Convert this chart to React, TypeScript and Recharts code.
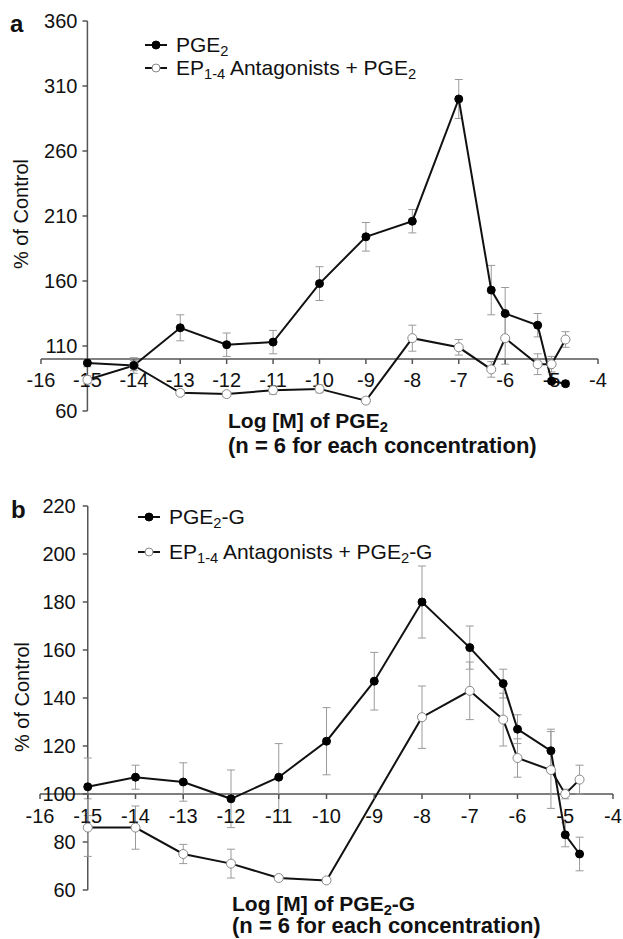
import React from 'react'
import { LineChart, Line, XAxis, YAxis, ReferenceLine, ReferenceDot, ErrorBar } from 'recharts'

// panel a: PGE2
const concA = [-15, -14, -13, -12, -11, -10, -9, -8, -7, -6.3, -6, -5.3, -5, -4.7]
const pgeA = [97, 95, 124, 111, 113, 158, 194, 206, 300, 153, 135, 126, 83, 81]
const pgeErrA = [3, 4, 10, 9, 9, 13, 11, 9, 15, 19, 20, 9, 2, 2]
const antA = [84, 95, 74, 73, 76, 77, 68, 116, 109, 92, 116, 96, 96, 115]
const antErrA = [3, 6, 2, 2, 3, 3, 2, 10, 6, 6, 20, 8, 6, 6]

// panel b: PGE2-G (no antagonist point visible at -9)
const concB = [-15, -14, -13, -12, -11, -10, -9, -8, -7, -6.3, -6, -5.3, -5, -4.7]
const pgeB = [103, 107, 105, 98, 107, 122, 147, 180, 161, 146, 127, 118, 83, 75]
const pgeErrB = [12, 5, 8, 12, 14, 14, 12, 15, 9, 6, 6, 9, 5, 7]
const concAntB = [-15, -14, -13, -12, -11, -10, -8, -7, -6.3, -6, -5.3, -5, -4.7]
const antB = [86, 86, 75, 71, 65, 64, 132, 143, 131, 115, 110, 100, 106]
const antErrB = [12, 9, 4, 6, 1, 1, 13, 12, 11, 8, 16, 2, 6]

const xTicks = [-16, -15, -14, -13, -12, -11, -10, -9, -8, -7, -6, -5, -4]
const yTicksA = [60, 110, 160, 210, 260, 310, 360]
const yTicksB = [60, 80, 100, 120, 140, 160, 180, 200, 220]

const FONT = '"Liberation Sans", Arial, Helvetica, sans-serif'
const AXIS = '#555'

const rows = (xs: number[], ys: number[], es: number[]) => xs.map((x, i) => ({ x, y: ys[i], e: es[i] }))

const xTick = (label: number, dy: number) => (p: any) => (
  <g>
    <line x1={p.cx} y1={p.cy} x2={p.cx} y2={p.cy + 5} stroke={AXIS} strokeWidth={1.5} />
    <text x={p.cx} y={p.cy + dy} textAnchor="middle" dominantBaseline="central" fontSize={20} fontFamily={FONT} fill="#111">
      {label}
    </text>
  </g>
)

const yTick = (label: number, dx: number) => (p: any) => (
  <g>
    <line x1={p.cx - 5} y1={p.cy} x2={p.cx} y2={p.cy} stroke={AXIS} strokeWidth={1.5} />
    <text x={p.cx - dx} y={p.cy} textAnchor="end" dominantBaseline="central" fontSize={20} fontFamily={FONT} fill="#111">
      {label}
    </text>
  </g>
)

function LegendRow({ open, top, left, children }: any) {
  return (
    <div style={{ position: 'absolute', top, left, display: 'flex', alignItems: 'center', height: 24 }}>
      <svg width={22} height={12} style={{ marginRight: 9 }}>
        <line x1={0} y1={6} x2={22} y2={6} stroke="#111" strokeWidth={2} />
        <circle cx={11} cy={6} r={4} fill={open ? '#fff' : '#000'} stroke={open ? '#888' : '#000'} strokeWidth={1} />
      </svg>
      <span style={{ fontSize: 21, fontFamily: FONT, color: '#111', whiteSpace: 'nowrap' }}>{children}</span>
    </div>
  )
}

const sub = (t: string) => <sub style={{ fontSize: '0.7em', verticalAlign: '-0.3em', lineHeight: 0 }}>{t}</sub>

interface PanelProps {
  width: number
  height: number
  margin: { top: number; right: number; bottom: number; left: number }
  yDomain: [number, number]
  yTicks: number[]
  filled: { x: number; y: number; e: number }[]
  open: { x: number; y: number; e: number }[]
  xLabelDy: number
  yLabelDx: number
}

function Panel({ width, height, margin, yDomain, yTicks, filled, open, xLabelDy, yLabelDx }: PanelProps) {
  return (
    <LineChart width={width} height={height} margin={margin}>
      <XAxis type="number" dataKey="x" domain={[-16, -4]} hide />
      <YAxis type="number" domain={yDomain} hide width={0} />
      <ReferenceLine y={100} stroke={AXIS} strokeWidth={1.5} ifOverflow="visible" />
      <ReferenceLine x={-15} stroke={AXIS} strokeWidth={1.5} ifOverflow="visible" />
      {xTicks.map((t) => (
        <ReferenceDot key={'x' + t} x={t} y={100} r={1} ifOverflow="visible" shape={xTick(t, xLabelDy)} />
      ))}
      {yTicks.map((t) => (
        <ReferenceDot key={'y' + t} x={-15} y={t} r={1} ifOverflow="visible" shape={yTick(t, yLabelDx)} />
      ))}
      <Line
        data={open}
        dataKey="y"
        stroke="#111"
        strokeWidth={2}
        dot={{ r: 4.5, fill: '#fff', stroke: '#888', strokeWidth: 1 }}
        isAnimationActive={false}
      >
        <ErrorBar dataKey="e" direction="y" width={4} stroke="#9a9a9a" strokeWidth={1} />
      </Line>
      <Line
        data={filled}
        dataKey="y"
        stroke="#111"
        strokeWidth={2}
        dot={{ r: 4, fill: '#000', stroke: '#000', strokeWidth: 1 }}
        isAnimationActive={false}
      >
        <ErrorBar dataKey="e" direction="y" width={4} stroke="#9a9a9a" strokeWidth={1} />
      </Line>
    </LineChart>
  )
}

const txt: React.CSSProperties = { position: 'absolute', fontFamily: FONT, color: '#111', whiteSpace: 'nowrap' }
const title: React.CSSProperties = { ...txt, fontSize: 21, fontWeight: 'bold' }

export default function App() {
  return (
    <div style={{ position: 'absolute', left: 0, top: 0, width: 623, height: 939, background: '#fff', overflow: 'hidden' }}>
      <div style={{ position: 'absolute', left: 0, top: 0 }}>
        <Panel
          width={623}
          height={470}
          margin={{ top: 21, right: 25, bottom: 59, left: 41 }}
          yDomain={[60, 360]}
          yTicks={yTicksA}
          filled={rows(concA, pgeA, pgeErrA)}
          open={rows(concA, antA, antErrA)}
          xLabelDy={21}
          yLabelDx={10}
        />
      </div>
      <div style={{ position: 'absolute', left: 0, top: 470 }}>
        <Panel
          width={623}
          height={469}
          margin={{ top: 36, right: 10, bottom: 49, left: 40 }}
          yDomain={[60, 220]}
          yTicks={yTicksB}
          filled={rows(concB, pgeB, pgeErrB)}
          open={rows(concAntB, antB, antErrB)}
          xLabelDy={22}
          yLabelDx={12}
        />
      </div>

      <div style={{ ...txt, left: 10, top: 10, fontSize: 24, fontWeight: 'bold' }}>a</div>
      <div style={{ ...txt, left: 11, top: 496, fontSize: 24, fontWeight: 'bold' }}>b</div>

      <LegendRow top={33} left={145}>PGE{sub('2')}</LegendRow>
      <LegendRow open top={56} left={145}>
        EP{sub('1-4')} Antagonists + PGE{sub('2')}
      </LegendRow>
      <LegendRow top={505} left={138}>PGE{sub('2')}-G</LegendRow>
      <LegendRow open top={540} left={138}>
        EP{sub('1-4')} Antagonists + PGE{sub('2')}-G
      </LegendRow>

      <div style={{ ...txt, left: 21, top: 214, fontSize: 20, transform: 'translate(-50%, -50%) rotate(-90deg)' }}>% of Control</div>
      <div style={{ ...txt, left: 22, top: 697, fontSize: 20, transform: 'translate(-50%, -50%) rotate(-90deg)' }}>% of Control</div>

      <div style={{ ...title, left: 228, top: 408, lineHeight: '25px' }}>
        Log [M] of PGE{sub('2')}
        <br />
        <span style={{ fontSize: 22 }}>(n = 6 for each concentration)</span>
      </div>
      <div style={{ ...title, left: 232, top: 893, lineHeight: '22px' }}>
        Log [M] of PGE{sub('2')}-G
        <br />
        <span style={{ fontSize: 22 }}>(n = 6 for each concentration)</span>
      </div>
    </div>
  )
}
